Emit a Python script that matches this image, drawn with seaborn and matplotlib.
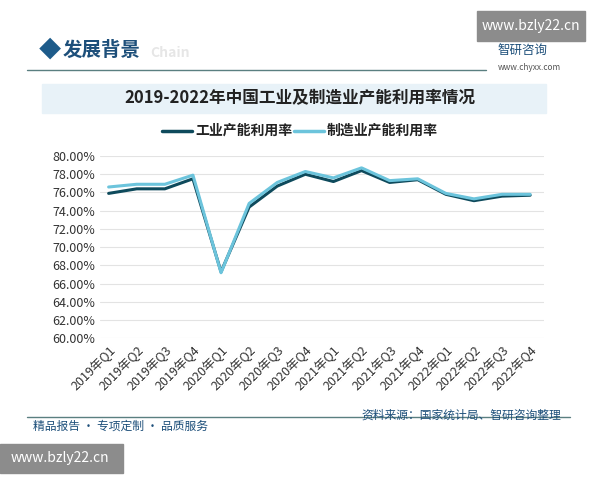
import matplotlib
matplotlib.use("Agg")
import matplotlib.pyplot as plt
import seaborn as sns
import pandas as pd
from matplotlib.patches import Rectangle

quarters = ["2019年Q1","2019年Q2","2019年Q3","2019年Q4","2020年Q1","2020年Q2","2020年Q3","2020年Q4",
            "2021年Q1","2021年Q2","2021年Q3","2021年Q4","2022年Q1","2022年Q2","2022年Q3","2022年Q4"]
industry = [75.9,76.4,76.4,77.5,67.3,74.4,76.7,78.0,77.2,78.4,77.1,77.4,75.8,75.1,75.6,75.7]
manufacturing = [76.6,76.9,76.9,77.9,67.2,74.8,77.1,78.3,77.6,78.7,77.3,77.5,75.9,75.3,75.8,75.8]

sns.set_theme(style="white")
plt.rcParams['font.family'] = ['Noto Sans CJK SC', 'DejaVu Sans']

df = pd.DataFrame({"q": list(range(len(quarters))) * 2,
                   "v": industry + manufacturing,
                   "s": ["工业产能利用率"] * 16 + ["制造业产能利用率"] * 16})

fig = plt.figure(figsize=(6, 4.8), dpi=100)
ax = fig.add_axes([0.167, 0.295, 0.74, 0.38])
sns.lineplot(data=df, x="q", y="v", hue="s", palette=["#0e4a5c", "#6cc4dc"], linewidth=2.2, ax=ax, legend=False)
ax.set_ylim(60, 80)
ax.set_yticks(range(60, 81, 2))
ax.set_yticklabels([f"{t:.2f}%" for t in range(60, 81, 2)], fontsize=9, color="#333")
ax.set_xticks(range(16))
ax.set_xticklabels(quarters, rotation=45, ha="right", rotation_mode="anchor", fontsize=9, color="#333")
ax.set_xlim(-0.3, 15.5)
ax.grid(axis="y", color="#e3e3e3", linewidth=0.8)
for s in ax.spines.values():
    s.set_visible(False)
ax.set_xlabel(""); ax.set_ylabel("")
ax.tick_params(length=0)

# header
fig.text(0.065, 0.895, "◆", fontsize=16, color="#1d5b8a", va="center")
fig.text(0.105, 0.895, "发展背景", fontsize=14, color="#1d4f7a", va="center", weight="bold")
fig.text(0.25, 0.89, "Chain", fontsize=10, color="#e6e6e6", va="center", weight="bold")
fig.add_artist(plt.Line2D([0.045, 0.81], [0.855, 0.855], color="#5a7f80", lw=1))
fig.text(0.83, 0.895, "智研咨询", fontsize=9, color="#1d4f7a", va="center")
fig.text(0.83, 0.86, "www.chyxx.com", fontsize=6, color="#555", va="center")
fig.add_artist(Rectangle((0.795, 0.915), 0.18, 0.062, transform=fig.transFigure, color="#8c8c8c"))
fig.text(0.885, 0.946, "www.bzly22.cn", fontsize=10, color="white", ha="center", va="center")
fig.add_artist(Rectangle((0.07, 0.765), 0.84, 0.06, transform=fig.transFigure, color="#e8f2f8"))
fig.text(0.5, 0.795, "2019-2022年中国工业及制造业产能利用率情况", fontsize=12, color="#222", ha="center", va="center", weight="bold")
# legend
fig.add_artist(plt.Line2D([0.27, 0.32], [0.727, 0.727], color="#0e4a5c", lw=2.5))
fig.text(0.325, 0.727, "工业产能利用率", fontsize=10, va="center", color="#222", weight="bold")
fig.add_artist(plt.Line2D([0.49, 0.54], [0.727, 0.727], color="#6cc4dc", lw=2.5))
fig.text(0.545, 0.727, "制造业产能利用率", fontsize=10, va="center", color="#222", weight="bold")
# footer
fig.add_artist(plt.Line2D([0.045, 0.95], [0.132, 0.132], color="#5a7f80", lw=1))
fig.text(0.055, 0.112, "精品报告 · 专项定制 · 品质服务", fontsize=8.5, color="#1d4f7a", va="center")
fig.text(0.935, 0.135, "资料来源：国家统计局、智研咨询整理", fontsize=8.5, color="#1d4f7a", va="center", ha="right")
fig.add_artist(Rectangle((0.0, 0.015), 0.205, 0.06, transform=fig.transFigure, color="#8c8c8c"))
fig.text(0.1, 0.045, "www.bzly22.cn", fontsize=10, color="white", ha="center", va="center")

fig.savefig("out.png", dpi=100)
